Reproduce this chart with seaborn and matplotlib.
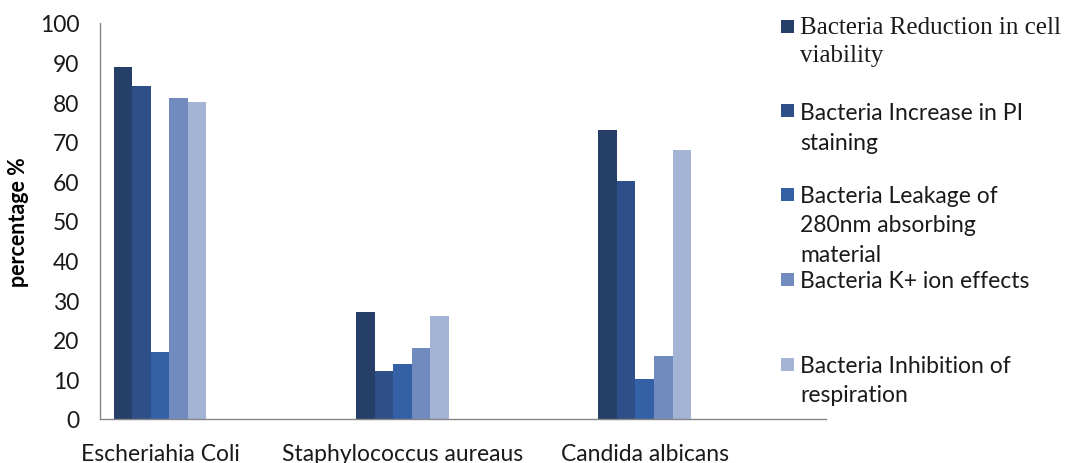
import matplotlib
matplotlib.use("Agg")
import matplotlib.pyplot as plt
import matplotlib.patches as mpatches
import seaborn as sns
import pandas as pd

categories = ["Escheriahia Coli", "Staphylococcus aureaus", "Candida albicans"]
series = [
    "Bacteria Reduction in cell\nviability",
    "Bacteria Increase in PI\nstaining",
    "Bacteria Leakage of\n280nm absorbing\nmaterial",
    "Bacteria K+ ion effects",
    "Bacteria Inhibition of\nrespiration",
]
reduction_viability = [89, 27, 73]
increase_pi = [84, 12, 60]
leakage_280nm = [17, 14, 10]
k_ion_effects = [81, 18, 16]
inhibition_respiration = [80, 26, 68]
yticks = [0, 10, 20, 30, 40, 50, 60, 70, 80, 90, 100]

colors = ["#253F69", "#2E4F87", "#3460A6", "#718BBE", "#A3B4D5"]

values = [reduction_viability, increase_pi, leakage_280nm, k_ion_effects, inhibition_respiration]
rows = []
for s, vals in zip(series, values):
    for c, v in zip(categories, vals):
        rows.append({"category": c, "series": s, "value": v})
df = pd.DataFrame(rows)

sns.set_theme(style="white")
plt.rcParams["font.family"] = ["Lato", "DejaVu Sans"]

W, H = 1065, 464
fig = plt.figure(figsize=(W / 100, H / 100), dpi=100)
ax = fig.add_axes([100 / W, (H - 420) / H, 726 / W, (420 - 24) / H])

sns.barplot(data=df, x="category", y="value", hue="series", order=categories,
            hue_order=series, palette=colors, width=0.382, saturation=1,
            edgecolor="none", linewidth=0, legend=False, ax=ax)

ax.set_xlim(-0.248, 2.748)
ax.set_ylim(0, 100)
ax.set_yticks(yticks)
ax.set_yticklabels([str(t) for t in yticks], fontsize=16.5, color="#1a1a1a")
ax.tick_params(axis="y", length=0, pad=15)
ax.tick_params(axis="x", length=0, pad=17, labelsize=16.5, labelcolor="#1a1a1a")
ax.set_xlabel("")
ax.set_ylabel("percentage %", fontsize=15.5, fontweight="bold", color="black", labelpad=8)
for side in ["top", "right"]:
    ax.spines[side].set_visible(False)
for side in ["left", "bottom"]:
    ax.spines[side].set_color("#868686")
    ax.spines[side].set_linewidth(1.0)

# Legend (manual, irregular spacing like the original)
legend_rows = [
    (27.5, [27.5, 56], "Liberation Serif", 18),
    (111.5, [113, 143], "Lato", 16.5),
    (195.5, [197, 226, 256], "Lato", 16.5),
    (280, [282], "Lato", 16.5),
    (365.5, [367, 396], "Lato", 16.5),
]
for (sq_y, line_ys, fam, fs), label, col in zip(legend_rows, series, colors):
    fig.patches.append(mpatches.Rectangle((781 / W, 1 - (sq_y + 6.5) / H), 13 / W, 13 / H,
                                          transform=fig.transFigure, facecolor=col,
                                          edgecolor="none"))
    for ly, line in zip(line_ys, label.split("\n")):
        fig.text(800 / W, 1 - ly / H, line, fontsize=fs, family=[fam, "DejaVu Sans"],
                 va="center", ha="left", color="#1a1a1a")

fig.savefig("out.png", dpi=100)
